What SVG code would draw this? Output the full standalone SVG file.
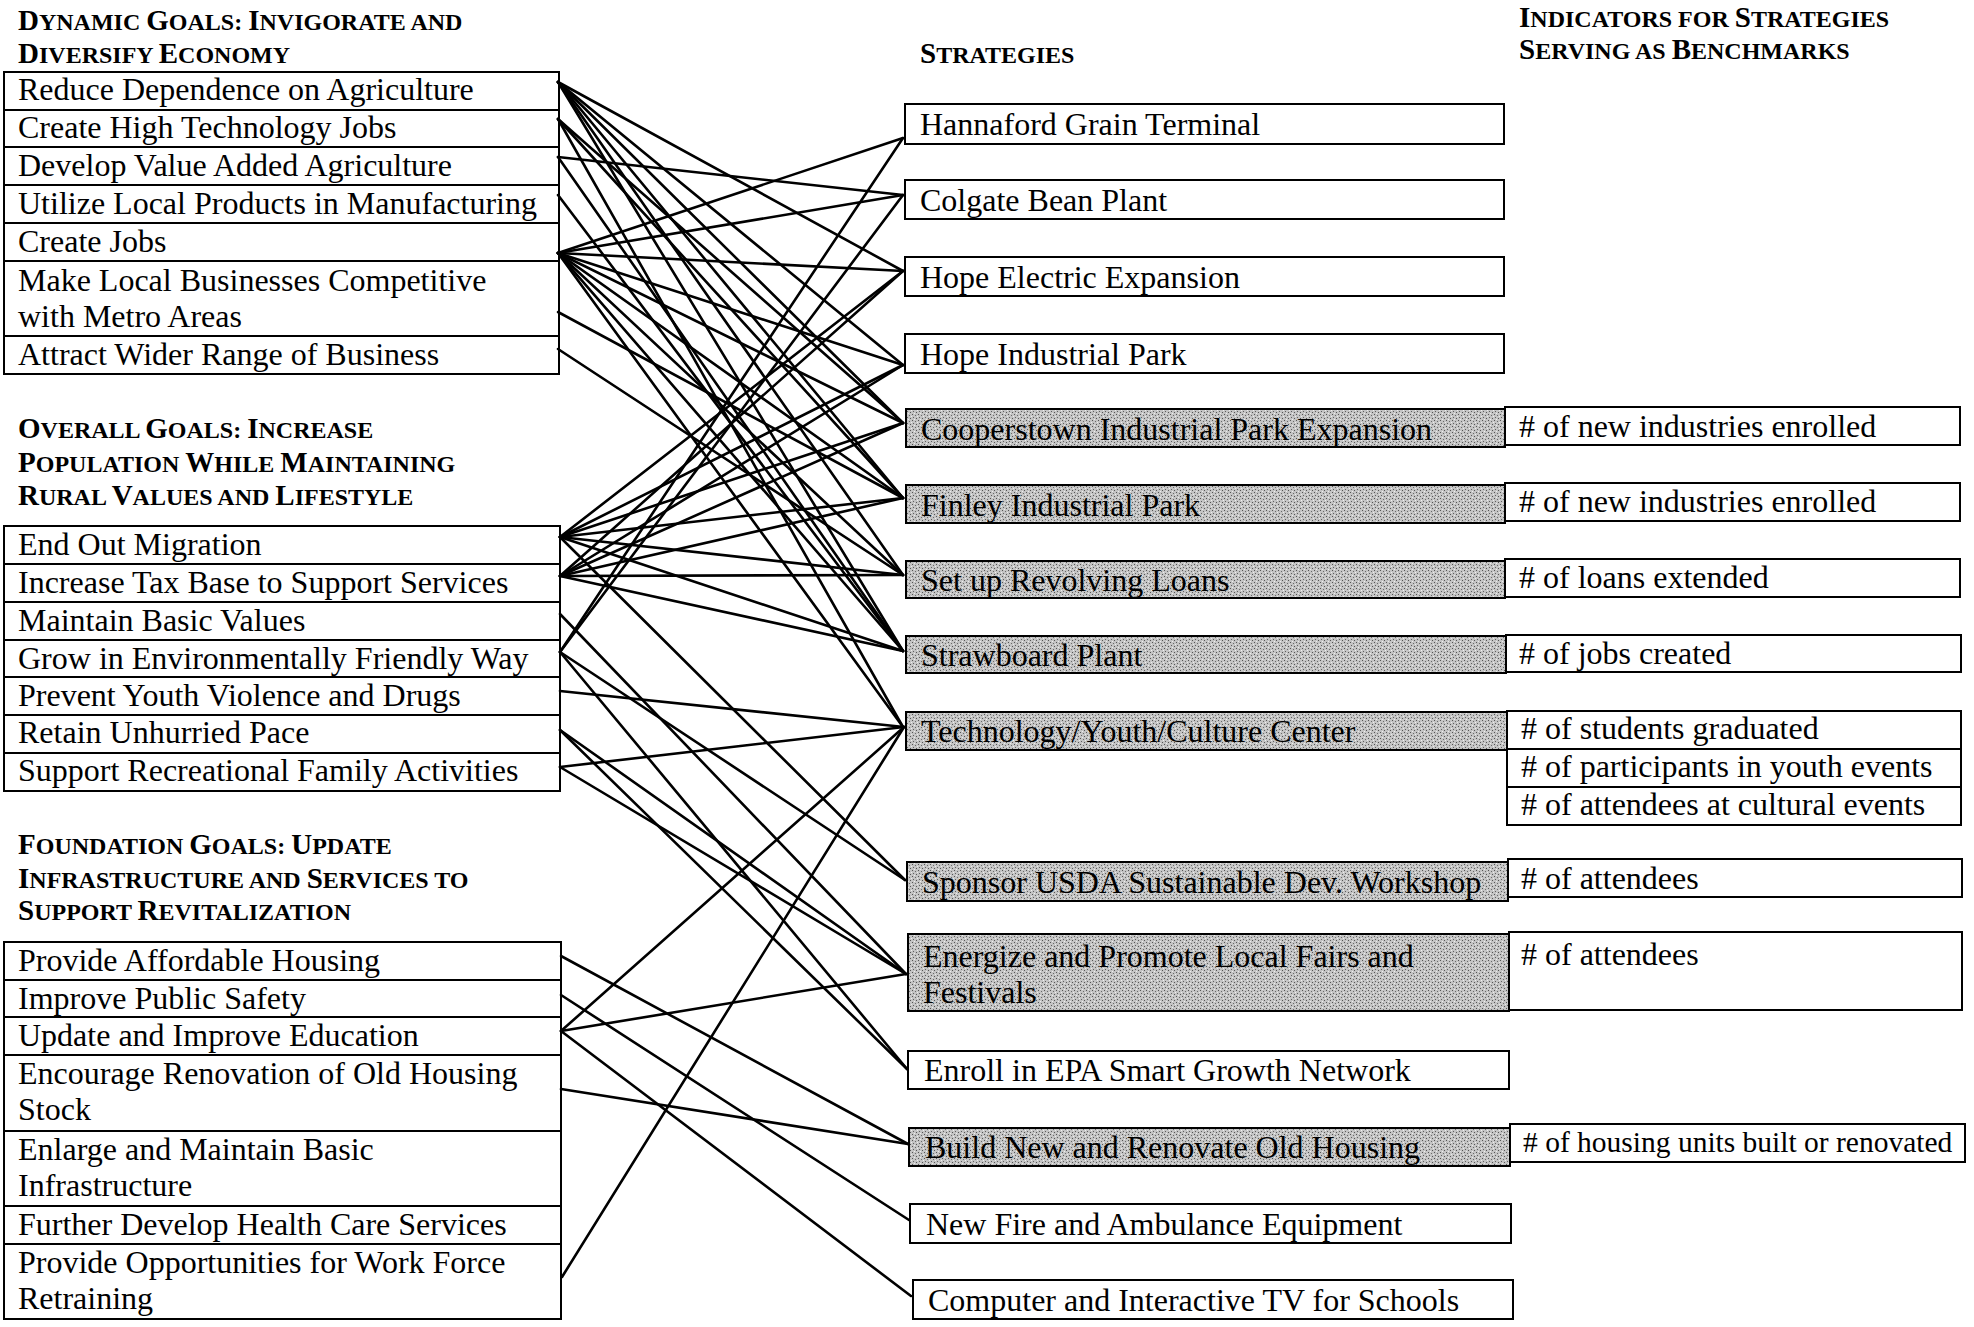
<svg xmlns="http://www.w3.org/2000/svg" width="1974" height="1327" viewBox="0 0 1974 1327">
<defs>
<pattern id="stip" width="6" height="6" patternUnits="userSpaceOnUse">
<rect width="6" height="6" fill="#c4c4c4"/>
<rect x="0" y="0" width="1" height="1" fill="#555"/>
<rect x="3" y="1" width="1" height="1" fill="#6a6a6a"/>
<rect x="1" y="3" width="1" height="1" fill="#606060"/>
<rect x="4" y="4" width="1" height="1" fill="#555"/>
<rect x="5" y="2" width="1" height="1" fill="#eee"/>
<rect x="2" y="5" width="1" height="1" fill="#eee"/>
</pattern>
</defs>
<style>
.bg{fill:#fff}
.box{fill:#fff;stroke:#000;stroke-width:2}
.gray{fill:url(#stip);stroke:#000;stroke-width:2}
.t{font-family:"Liberation Serif","Times New Roman",serif;font-size:32px;fill:#000}
.h{font-family:"Liberation Serif","Times New Roman",serif;font-size:24px;font-weight:bold;fill:#000}
.c{font-size:29px}
#connectors line{stroke:#000;stroke-width:2.6;stroke-linecap:round}
</style>
<rect class="bg" x="0" y="0" width="1974" height="1327"/>

<g id="headings">
<text class="h" x="18" y="30"><tspan class="c">D</tspan>YNAMIC <tspan class="c">G</tspan>OALS: <tspan class="c">I</tspan>NVIGORATE AND</text>
<text class="h" x="18" y="63"><tspan class="c">D</tspan>IVERSIFY <tspan class="c">E</tspan>CONOMY</text>
<text class="h" x="920" y="63"><tspan class="c">S</tspan>TRATEGIES</text>
<text class="h" x="1519" y="27"><tspan class="c">I</tspan>NDICATORS FOR <tspan class="c">S</tspan>TRATEGIES</text>
<text class="h" x="1519" y="59"><tspan class="c">S</tspan>ERVING AS <tspan class="c">B</tspan>ENCHMARKS</text>
<text class="h" x="18" y="438"><tspan class="c">O</tspan>VERALL <tspan class="c">G</tspan>OALS: <tspan class="c">I</tspan>NCREASE</text>
<text class="h" x="18" y="472"><tspan class="c">P</tspan>OPULATION <tspan class="c">W</tspan>HILE <tspan class="c">M</tspan>AINTAINING</text>
<text class="h" x="18" y="505"><tspan class="c">R</tspan>URAL <tspan class="c">V</tspan>ALUES AND <tspan class="c">L</tspan>IFESTYLE</text>
<text class="h" x="18" y="854"><tspan class="c">F</tspan>OUNDATION <tspan class="c">G</tspan>OALS: <tspan class="c">U</tspan>PDATE</text>
<text class="h" x="18" y="888"><tspan class="c">I</tspan>NFRASTRUCTURE AND <tspan class="c">S</tspan>ERVICES TO</text>
<text class="h" x="18" y="920"><tspan class="c">S</tspan>UPPORT <tspan class="c">R</tspan>EVITALIZATION</text>
</g>

<!-- Dynamic goals -->
<g id="g-reduce-dependence"><rect class="box" x="4" y="72" width="555" height="38"/><text class="t" x="18" y="100">Reduce Dependence on Agriculture</text></g>
<g id="g-high-tech-jobs"><rect class="box" x="4" y="110" width="555" height="37"/><text class="t" x="18" y="138">Create High Technology Jobs</text></g>
<g id="g-value-added"><rect class="box" x="4" y="147" width="555" height="38"/><text class="t" x="18" y="176">Develop Value Added Agriculture</text></g>
<g id="g-local-products"><rect class="box" x="4" y="185" width="555" height="38"/><text class="t" x="18" y="214">Utilize Local Products in Manufacturing</text></g>
<g id="g-create-jobs"><rect class="box" x="4" y="223" width="555" height="38"/><text class="t" x="18" y="252">Create Jobs</text></g>
<g id="g-competitive"><rect class="box" x="4" y="261" width="555" height="75"/><text class="t" x="18" y="291">Make Local Businesses Competitive</text><text class="t" x="18" y="327">with Metro Areas</text></g>
<g id="g-wider-range"><rect class="box" x="4" y="336" width="555" height="38"/><text class="t" x="18" y="365">Attract Wider Range of Business</text></g>

<!-- Overall goals -->
<g id="g-out-migration"><rect class="box" x="4" y="526" width="556" height="38"/><text class="t" x="18" y="555">End Out Migration</text></g>
<g id="g-tax-base"><rect class="box" x="4" y="564" width="556" height="38"/><text class="t" x="18" y="593">Increase Tax Base to Support Services</text></g>
<g id="g-basic-values"><rect class="box" x="4" y="602" width="556" height="38"/><text class="t" x="18" y="631">Maintain Basic Values</text></g>
<g id="g-env-friendly"><rect class="box" x="4" y="640" width="556" height="37"/><text class="t" x="18" y="669">Grow in Environmentally Friendly Way</text></g>
<g id="g-youth-violence"><rect class="box" x="4" y="677" width="556" height="38"/><text class="t" x="18" y="706">Prevent Youth Violence and Drugs</text></g>
<g id="g-unhurried"><rect class="box" x="4" y="715" width="556" height="38"/><text class="t" x="18" y="743">Retain Unhurried Pace</text></g>
<g id="g-recreational"><rect class="box" x="4" y="753" width="556" height="38"/><text class="t" x="18" y="781">Support Recreational Family Activities</text></g>

<!-- Foundation goals -->
<g id="g-housing"><rect class="box" x="4" y="942" width="557" height="38"/><text class="t" x="18" y="971">Provide Affordable Housing</text></g>
<g id="g-safety"><rect class="box" x="4" y="980" width="557" height="37"/><text class="t" x="18" y="1009">Improve Public Safety</text></g>
<g id="g-education"><rect class="box" x="4" y="1017" width="557" height="38"/><text class="t" x="18" y="1046">Update and Improve Education</text></g>
<g id="g-renovation"><rect class="box" x="4" y="1055" width="557" height="76"/><text class="t" x="18" y="1084">Encourage Renovation of Old Housing</text><text class="t" x="18" y="1120">Stock</text></g>
<g id="g-infrastructure"><rect class="box" x="4" y="1131" width="557" height="75"/><text class="t" x="18" y="1160">Enlarge and Maintain Basic</text><text class="t" x="18" y="1196">Infrastructure</text></g>
<g id="g-health"><rect class="box" x="4" y="1206" width="557" height="38"/><text class="t" x="18" y="1235">Further Develop Health Care Services</text></g>
<g id="g-workforce"><rect class="box" x="4" y="1244" width="557" height="75"/><text class="t" x="18" y="1273">Provide Opportunities for Work Force</text><text class="t" x="18" y="1309">Retraining</text></g>

<!-- Strategies -->
<g id="s-hannaford"><rect class="box" x="905" y="104" width="599" height="40"/><text class="t" x="920" y="135">Hannaford Grain Terminal</text></g>
<g id="s-colgate"><rect class="box" x="905" y="180" width="599" height="39"/><text class="t" x="920" y="211">Colgate Bean Plant</text></g>
<g id="s-hope-electric"><rect class="box" x="905" y="257" width="599" height="39"/><text class="t" x="920" y="288">Hope Electric Expansion</text></g>
<g id="s-hope-park"><rect class="box" x="905" y="334" width="599" height="39"/><text class="t" x="920" y="365">Hope Industrial Park</text></g>
<g id="s-cooperstown"><rect class="gray" x="906" y="409" width="599" height="38"/><text class="t" x="921" y="440">Cooperstown Industrial Park Expansion</text>
<rect class="box" x="1505" y="407" width="455" height="38"/><text class="t" x="1519" y="437"># of new industries enrolled</text></g>
<g id="s-finley"><rect class="gray" x="906" y="485" width="599" height="38"/><text class="t" x="921" y="516">Finley Industrial Park</text>
<rect class="box" x="1505" y="483" width="455" height="38"/><text class="t" x="1519" y="512"># of new industries enrolled</text></g>
<g id="s-revolving"><rect class="gray" x="906" y="561" width="599" height="37"/><text class="t" x="921" y="591">Set up Revolving Loans</text>
<rect class="box" x="1505" y="559" width="455" height="38"/><text class="t" x="1519" y="588"># of loans extended</text></g>
<g id="s-strawboard"><rect class="gray" x="906" y="636" width="600" height="37"/><text class="t" x="921" y="666">Strawboard Plant</text>
<rect class="box" x="1506" y="635" width="455" height="37"/><text class="t" x="1519" y="664"># of jobs created</text></g>
<g id="s-technology"><rect class="gray" x="906" y="712" width="601" height="38"/><text class="t" x="921" y="742">Technology/Youth/Culture Center</text>
<rect class="box" x="1507" y="711" width="454" height="38"/><text class="t" x="1521" y="739"># of students graduated</text>
<rect class="box" x="1507" y="749" width="454" height="38"/><text class="t" x="1521" y="777"># of participants in youth events</text>
<rect class="box" x="1507" y="787" width="454" height="38"/><text class="t" x="1521" y="815"># of attendees at cultural events</text></g>
<g id="s-usda"><rect class="gray" x="907" y="862" width="601" height="39"/><text class="t" x="922" y="893">Sponsor USDA Sustainable Dev. Workshop</text>
<rect class="box" x="1508" y="859" width="454" height="38"/><text class="t" x="1521" y="889"># of attendees</text></g>
<g id="s-fairs"><rect class="gray" x="908" y="934" width="601" height="77"/><text class="t" x="923" y="967">Energize and Promote Local Fairs and</text><text class="t" x="923" y="1003">Festivals</text>
<rect class="box" x="1509" y="932" width="453" height="78"/><text class="t" x="1521" y="965"># of attendees</text></g>
<g id="s-epa"><rect class="box" x="908" y="1051" width="601" height="38"/><text class="t" x="924" y="1081">Enroll in EPA Smart Growth Network</text></g>
<g id="s-housing"><rect class="gray" x="909" y="1128" width="601" height="38"/><text class="t" x="925" y="1158">Build New and Renovate Old Housing</text>
<rect class="box" x="1510" y="1124" width="455" height="38"/><text class="t" x="1523" y="1152" style="font-size:29.5px"># of housing units built or renovated</text></g>
<g id="s-fire"><rect class="box" x="910" y="1204" width="601" height="39"/><text class="t" x="926" y="1235">New Fire and Ambulance Equipment</text></g>
<g id="s-schools"><rect class="box" x="913" y="1280" width="600" height="39"/><text class="t" x="928" y="1311">Computer and Interactive TV for Schools</text></g>

<g id="connectors">
<line x1="558" y1="82" x2="903" y2="271"/>
<line x1="558" y1="82" x2="903" y2="365"/>
<line x1="558" y1="82" x2="903" y2="423"/>
<line x1="558" y1="82" x2="903" y2="498"/>
<line x1="558" y1="82" x2="903" y2="575"/>
<line x1="558" y1="82" x2="903" y2="651"/>
<line x1="558" y1="119" x2="903" y2="423"/>
<line x1="558" y1="119" x2="903" y2="498"/>
<line x1="558" y1="119" x2="903" y2="727"/>
<line x1="558" y1="157" x2="903" y2="195"/>
<line x1="558" y1="157" x2="903" y2="651"/>
<line x1="558" y1="195" x2="903" y2="651"/>
<line x1="558" y1="253" x2="903" y2="138"/>
<line x1="558" y1="253" x2="903" y2="195"/>
<line x1="558" y1="253" x2="903" y2="271"/>
<line x1="558" y1="253" x2="903" y2="365"/>
<line x1="558" y1="253" x2="903" y2="423"/>
<line x1="558" y1="253" x2="903" y2="498"/>
<line x1="558" y1="253" x2="903" y2="575"/>
<line x1="558" y1="253" x2="903" y2="651"/>
<line x1="558" y1="253" x2="903" y2="727"/>
<line x1="558" y1="312" x2="903" y2="498"/>
<line x1="558" y1="349" x2="903" y2="575"/>
<line x1="560" y1="537" x2="903" y2="271"/>
<line x1="560" y1="537" x2="903" y2="365"/>
<line x1="560" y1="537" x2="903" y2="423"/>
<line x1="560" y1="537" x2="903" y2="498"/>
<line x1="560" y1="537" x2="903" y2="575"/>
<line x1="560" y1="537" x2="903" y2="651"/>
<line x1="560" y1="537" x2="905" y2="880"/>
<line x1="560" y1="576" x2="903" y2="271"/>
<line x1="560" y1="576" x2="903" y2="365"/>
<line x1="560" y1="576" x2="903" y2="423"/>
<line x1="560" y1="576" x2="903" y2="498"/>
<line x1="560" y1="576" x2="903" y2="575"/>
<line x1="560" y1="576" x2="903" y2="651"/>
<line x1="560" y1="614" x2="906" y2="974"/>
<line x1="560" y1="652" x2="903" y2="138"/>
<line x1="560" y1="652" x2="903" y2="195"/>
<line x1="560" y1="652" x2="905" y2="880"/>
<line x1="560" y1="652" x2="907" y2="1069"/>
<line x1="560" y1="691" x2="904" y2="727"/>
<line x1="560" y1="730" x2="906" y2="974"/>
<line x1="560" y1="730" x2="907" y2="1069"/>
<line x1="560" y1="767" x2="904" y2="727"/>
<line x1="560" y1="767" x2="906" y2="974"/>
<line x1="561" y1="956" x2="908" y2="1144"/>
<line x1="561" y1="995" x2="909" y2="1220"/>
<line x1="561" y1="1031" x2="904" y2="727"/>
<line x1="561" y1="1031" x2="906" y2="974"/>
<line x1="561" y1="1031" x2="911" y2="1296"/>
<line x1="561" y1="1089" x2="908" y2="1144"/>
<line x1="562" y1="1277" x2="904" y2="727"/>
</g>
</svg>
